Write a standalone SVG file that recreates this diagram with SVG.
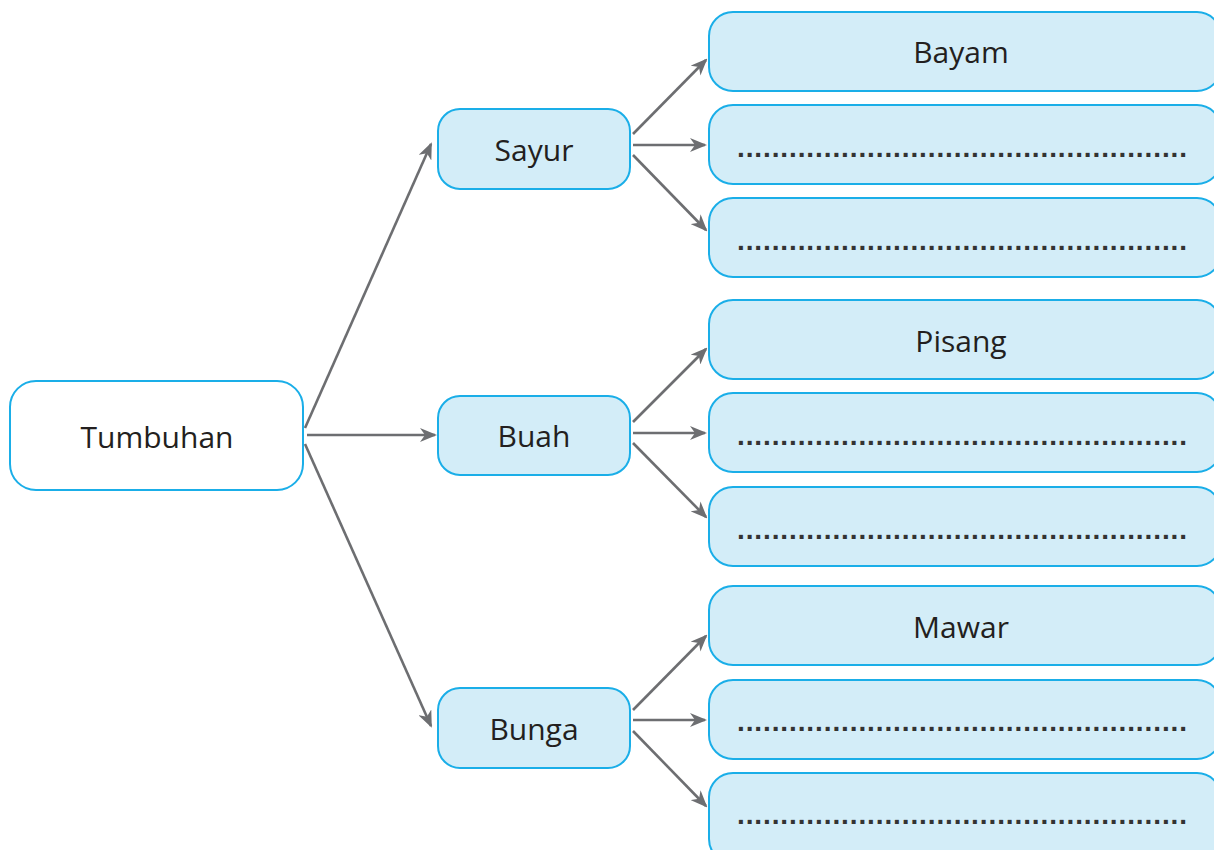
<svg xmlns="http://www.w3.org/2000/svg" width="1214" height="850" viewBox="0 0 1214 850">
<style>
.box{fill:#d3edf8;stroke:#1aaee8;stroke-width:2}
.root{fill:#ffffff;stroke:#1aaee8;stroke-width:2}
.lbl{font-family:"Open Sans","Liberation Sans",sans-serif;font-size:30px;fill:#231f20;text-anchor:middle}
.dots{font-family:"Liberation Sans",sans-serif;font-size:28px;font-weight:bold;fill:#333333}
.arr{stroke:#6d6e71;stroke-width:2.6;fill:none;marker-end:url(#ah)}
</style>
<defs>
<marker id="ah" markerWidth="17" markerHeight="14" refX="15" refY="7" orient="auto" markerUnits="userSpaceOnUse">
<path d="M0,0 L17,7 L0,14 L5,7 z" fill="#6d6e71"/>
</marker>
</defs>
<rect width="1214" height="850" fill="#ffffff"/>
<g id="connectors">
<line class="arr" x1="305" y1="428" x2="431" y2="144"/>
<line class="arr" x1="307" y1="435" x2="435" y2="435"/>
<line class="arr" x1="305" y1="444" x2="431" y2="726"/>
<line class="arr" x1="633" y1="134" x2="706" y2="60"/>
<line class="arr" x1="633" y1="145" x2="705" y2="145"/>
<line class="arr" x1="633" y1="155" x2="706" y2="230"/>
<line class="arr" x1="633" y1="422" x2="706" y2="349"/>
<line class="arr" x1="633" y1="433" x2="705" y2="433"/>
<line class="arr" x1="633" y1="443" x2="706" y2="517"/>
<line class="arr" x1="633" y1="710" x2="706" y2="636"/>
<line class="arr" x1="633" y1="720" x2="705" y2="720"/>
<line class="arr" x1="633" y1="731" x2="706" y2="806"/>
</g>
<g id="tumbuhan"><rect class="root" x="10" y="381" width="293" height="109" rx="26"/><text class="lbl" x="157" y="448">Tumbuhan</text></g>
<g id="sayur"><rect class="box" x="438" y="109" width="192" height="80" rx="22"/><text class="lbl" x="534" y="161">Sayur</text></g>
<g id="buah"><rect class="box" x="438" y="396" width="192" height="79" rx="22"/><text class="lbl" x="534" y="447">Buah</text></g>
<g id="bunga"><rect class="box" x="438" y="688" width="192" height="80" rx="22"/><text class="lbl" x="534" y="740">Bunga</text></g>
<g id="bayam"><rect class="box" x="709" y="12" width="512" height="79" rx="24"/><text class="lbl" x="961" y="63">Bayam</text></g>
<g id="sayur2"><rect class="box" x="709" y="105" width="512" height="79" rx="24"/><text class="dots" x="737" y="157" textLength="450" lengthAdjust="spacing">....................................................</text></g>
<g id="sayur3"><rect class="box" x="709" y="198" width="512" height="79" rx="24"/><text class="dots" x="737" y="250" textLength="450" lengthAdjust="spacing">....................................................</text></g>
<g id="pisang"><rect class="box" x="709" y="300" width="512" height="79" rx="24"/><text class="lbl" x="961" y="352">Pisang</text></g>
<g id="buah2"><rect class="box" x="709" y="393" width="512" height="79" rx="24"/><text class="dots" x="737" y="445" textLength="450" lengthAdjust="spacing">....................................................</text></g>
<g id="buah3"><rect class="box" x="709" y="487" width="512" height="79" rx="24"/><text class="dots" x="737" y="539" textLength="450" lengthAdjust="spacing">....................................................</text></g>
<g id="mawar"><rect class="box" x="709" y="586" width="512" height="79" rx="24"/><text class="lbl" x="961" y="638">Mawar</text></g>
<g id="bunga2"><rect class="box" x="709" y="680" width="512" height="79" rx="24"/><text class="dots" x="737" y="731" textLength="450" lengthAdjust="spacing">....................................................</text></g>
<g id="bunga3"><rect class="box" x="709" y="773" width="512" height="90" rx="24"/><text class="dots" x="737" y="824" textLength="450" lengthAdjust="spacing">....................................................</text></g>
</svg>
